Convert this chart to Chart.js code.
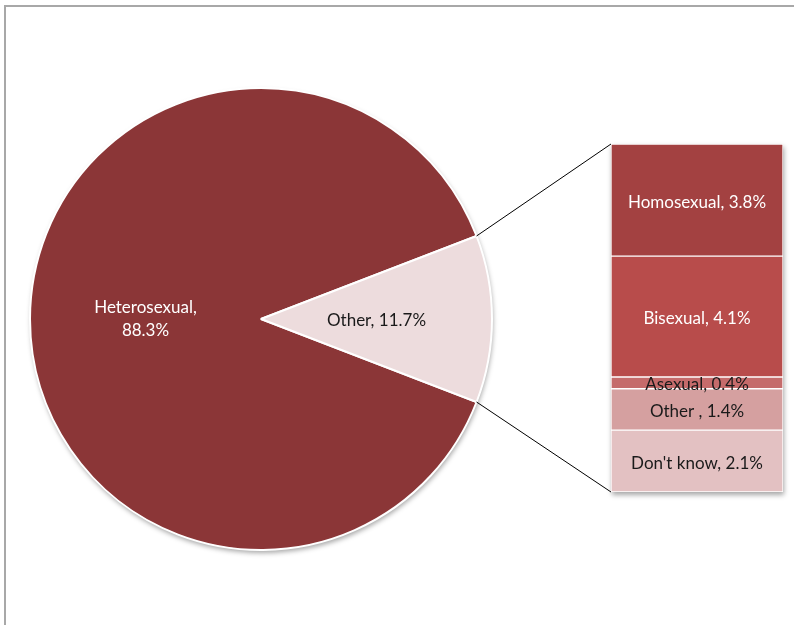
<!DOCTYPE html>
<html>
<head>
<meta charset="utf-8">
<script src="https://cdn.jsdelivr.net/npm/chart.js@4"></script>
<style>
  html, body { margin: 0; padding: 0; background: #fff; }
  #wrap { position: relative; width: 794px; height: 625px; overflow: hidden; }
  #frame { position: absolute; left: 4px; top: 5px; width: 800px; height: 640px;
           border-top: 2px solid #a8a8a8; border-left: 2px solid #a8a8a8; }
  #pieChart { position: absolute; left: 0; top: 0; }
  #splitBox { position: absolute; left: 611px; top: 144px; width: 172px; height: 348px; }
</style>
</head>
<body>
<div id="wrap">
  <div id="frame"></div>
  <canvas id="pieChart" width="794" height="625"></canvas>
  <div id="splitBox"><canvas id="splitChart" width="172" height="348"></canvas></div>
</div>
<script>
// Main pie
const pieLabels = ['Heterosexual', 'Other'];
const pieValues = [88.3, 11.7];
const pieColors = ['#8b3637', '#eddcdd'];
const pieTextColors = ['#ffffff', '#1a1a1a'];

// Breakdown of "Other", listed bottom to top of the stack
const splitLabels = ["Don't know", 'Other ', 'Asexual', 'Bisexual', 'Homosexual'];
const splitValues = [2.1, 1.4, 0.4, 4.1, 3.8];
const splitColors = ['#e3c1c2', '#d5a0a0', '#c56b6b', '#b84c4b', '#a34141'];
const splitTextColors = ['#1a1a1a', '#1a1a1a', '#1a1a1a', '#ffffff', '#ffffff'];

const FONT = "17px Lato, 'Open Sans', sans-serif";
const splitTotal = splitValues.reduce((a, b) => a + b, 0);

// soft drop shadow under a path, drawn before the datasets
function shadowed(ctx, drawPath) {
    ctx.save();
    ctx.shadowColor = 'rgba(0,0,0,0.35)';
    ctx.shadowBlur = 5;
    ctx.shadowOffsetX = 1;
    ctx.shadowOffsetY = 3;
    ctx.fillStyle = '#fff';
    ctx.beginPath();
    drawPath();
    ctx.fill();
    ctx.restore();
}

const splitChart = new Chart(document.getElementById('splitChart'), {
    type: 'bar',
    data: {
        labels: [''],
        datasets: splitLabels.map((label, i) => ({
            label: label,
            data: [splitValues[i]],
            backgroundColor: splitColors[i],
            borderColor: '#ffffff',
            borderWidth: 1,
            borderSkipped: false,
            barPercentage: 1,
            categoryPercentage: 1
        }))
    },
    options: {
        responsive: false,
        animation: false,
        layout: { padding: 0 },
        plugins: { legend: { display: false }, tooltip: { enabled: false } },
        scales: {
            x: { display: false, stacked: true },
            y: { display: false, stacked: true, min: 0, max: splitTotal }
        }
    },
    plugins: [{
        id: 'splitLabels',
        afterDatasetsDraw(chart) {
            const ctx = chart.ctx;
            ctx.save();
            ctx.font = FONT;
            ctx.textAlign = 'center';
            ctx.textBaseline = 'middle';
            chart.data.datasets.forEach((ds, i) => {
                const bar = chart.getDatasetMeta(i).data[0];
                ctx.fillStyle = splitTextColors[i];
                ctx.fillText(ds.label + ', ' + splitValues[i] + '%', bar.x, (bar.y + bar.base) / 2 + 2);
            });
            ctx.restore();
        }
    }]
});

new Chart(document.getElementById('pieChart'), {
    type: 'pie',
    data: {
        labels: pieLabels,
        datasets: [{
            data: pieValues,
            backgroundColor: pieColors,
            borderColor: '#ffffff',
            borderWidth: 2
        }]
    },
    options: {
        responsive: false,
        animation: false,
        // turn the pie so the middle of the "Other" slice points right, at the bar
        rotation: 90 + 360 * (1 - (pieValues[0] + pieValues[1] / 2) / 100),
        layout: { padding: { left: 29, top: 87, right: 301, bottom: 74 } },
        plugins: { legend: { display: false }, tooltip: { enabled: false } }
    },
    plugins: [{
        id: 'pieExtras',
        beforeDatasetsDraw(chart) {
            const a = chart.getDatasetMeta(0).data[0];
            shadowed(chart.ctx, () => chart.ctx.arc(a.x, a.y, a.outerRadius, 0, Math.PI * 2));
            // shadow under the stacked bar as well
            const metaTop = splitChart.getDatasetMeta(splitLabels.length - 1).data[0];
            const metaBot = splitChart.getDatasetMeta(0).data[0];
            const box = document.getElementById('splitBox');
            const ox = box.offsetLeft, oy = box.offsetTop;
            shadowed(chart.ctx, () => chart.ctx.rect(ox + metaTop.x - metaTop.width / 2, oy + metaTop.y,
                metaTop.width, metaBot.base - metaTop.y));
        },
        afterDatasetsDraw(chart) {
            const ctx = chart.ctx;
            const arcs = chart.getDatasetMeta(0).data;
            ctx.save();
            ctx.font = FONT;
            ctx.textAlign = 'center';
            ctx.textBaseline = 'middle';
            arcs.forEach((arc, i) => {
                const p = arc.tooltipPosition();
                ctx.fillStyle = pieTextColors[i];
                if (i === 0) {
                    ctx.fillText(pieLabels[i] + ',', p.x, p.y - 11);
                    ctx.fillText(pieValues[i] + '%', p.x, p.y + 12);
                } else {
                    ctx.fillText(pieLabels[i] + ', ' + pieValues[i] + '%', p.x, p.y + 2);
                }
            });

            // connector lines from the "Other" slice to the stacked bar
            const other = arcs[1];
            const topBar = splitChart.getDatasetMeta(splitLabels.length - 1).data[0];
            const botBar = splitChart.getDatasetMeta(0).data[0];
            const box = document.getElementById('splitBox');
            const ox = box.offsetLeft, oy = box.offsetTop;
            ctx.strokeStyle = '#000';
            ctx.lineWidth = 1;
            ctx.beginPath();
            ctx.moveTo(other.x + other.outerRadius * Math.cos(other.startAngle),
                       other.y + other.outerRadius * Math.sin(other.startAngle));
            ctx.lineTo(ox + topBar.x - topBar.width / 2, oy + topBar.y);
            ctx.moveTo(other.x + other.outerRadius * Math.cos(other.endAngle),
                       other.y + other.outerRadius * Math.sin(other.endAngle));
            ctx.lineTo(ox + botBar.x - botBar.width / 2, oy + botBar.base);
            ctx.stroke();
            ctx.restore();
        }
    }]
});
</script>
</body>
</html>
